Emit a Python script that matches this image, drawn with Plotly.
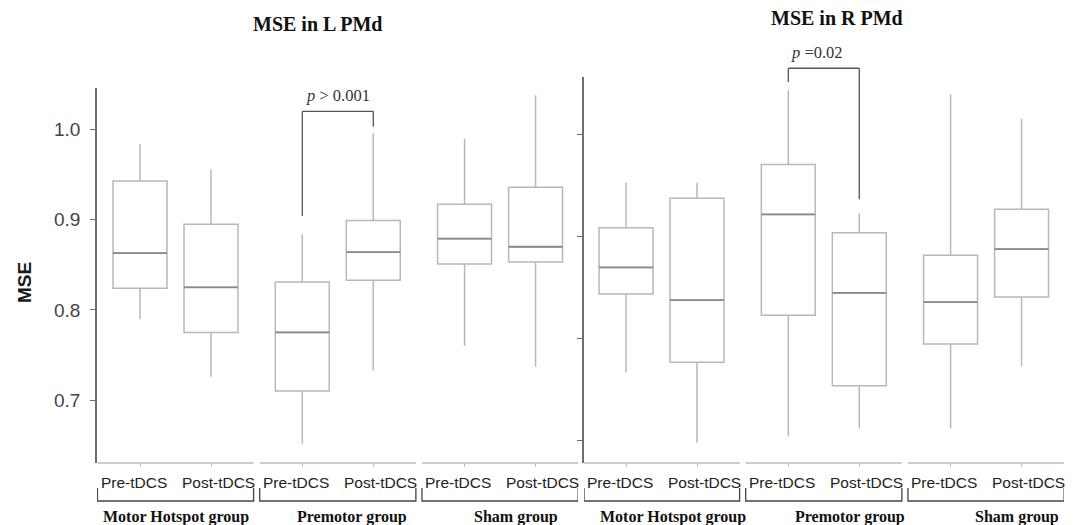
import plotly.graph_objects as go

# ---------------- data ----------------
groups = ["Motor Hotspot group", "Premotor group", "Sham group"]
sessions = ["Pre-tDCS", "Post-tDCS"]
y_ticks = [0.7, 0.8, 0.9, 1.0]

# order: Motor pre, Motor post, Premotor pre, Premotor post, Sham pre, Sham post
L_upper = [0.984, 0.956, 0.884, 0.996, 0.990, 1.038]
L_q3 = [0.943, 0.895, 0.831, 0.899, 0.917, 0.936]
L_med = [0.863, 0.825, 0.775, 0.864, 0.879, 0.870]
L_q1 = [0.824, 0.775, 0.710, 0.833, 0.851, 0.853]
L_lower = [0.790, 0.726, 0.652, 0.733, 0.760, 0.737]

R_upper = [0.953, 0.953, 1.044, 0.923, 1.040, 1.016]
R_q3 = [0.909, 0.938, 0.971, 0.904, 0.882, 0.927]
R_med = [0.870, 0.838, 0.922, 0.845, 0.836, 0.888]
R_q1 = [0.844, 0.777, 0.823, 0.754, 0.795, 0.841]
R_lower = [0.767, 0.698, 0.704, 0.712, 0.712, 0.773]

panel_titles = ["MSE in L PMd", "MSE in R PMd"]
# significance brackets: (box index a, box index b, top, leg a bottom, leg b bottom, label)
L_sig = (2, 3, 1.020, 0.904, 1.003, "<i>p</i> > 0.001")
R_sig = (2, 3, 1.0655, 1.052, 0.937, "<i>p</i> =0.02")

# ---------------- layout constants ----------------
W, H = 1077, 525
GROUP_STEP = 2.286
BOX_W = 0.76
positions = [g * GROUP_STEP + k for g in range(len(groups)) for k in range(len(sessions))]
centers = [g * GROUP_STEP + 0.5 for g in range(len(groups))]
session_label_off = [-0.09, 0.10]

def px_x(p):
    return p / W

def px_y(p):
    return 1 - p / H

panels = [
    dict(xa="x", ya="y", xdom=[px_x(97), px_x(578)], xr=[-0.606, 6.17],
         ydom=[px_y(463), px_y(88)], yr=[0.6303, 1.046],
         upper=L_upper, q3=L_q3, med=L_med, q1=L_q1, lower=L_lower, sig=L_sig,
         title_xy=(317.6, 24), label_off=[0.0, 0.2, 0.23], sig_dx=0.0),
    dict(xa="x2", ya="y2", xdom=[px_x(584), px_x(1064)], xr=[-0.592, 6.17],
         ydom=[px_y(463), px_y(77)], yr=[0.6781, 1.0569],
         upper=R_upper, q3=R_q3, med=R_med, q1=R_q1, lower=R_lower, sig=R_sig,
         title_xy=(837, 18), label_off=[0.157, 0.369, 0.435], sig_dx=-0.1),
]

BOX_LINE = "#b8b8b8"
MED_LINE = "#8a8a8a"
AXIS_LINE = "#6e6e6e"
SERIF = "Liberation Serif, Times New Roman, serif"
SANS = "Arial, Liberation Sans, sans-serif"

fig = go.Figure()
shapes = []
annotations = []

for pi, P in enumerate(panels):
    for i, pos in enumerate(positions):
        fig.add_trace(go.Box(
            x=[pos], q1=[P["q1"][i]], median=[P["med"][i]], q3=[P["q3"][i]],
            lowerfence=[P["lower"][i]], upperfence=[P["upper"][i]],
            width=BOX_W, whiskerwidth=0, boxpoints=False,
            line=dict(color=BOX_LINE, width=1.5), fillcolor="rgba(255,255,255,0)",
            xaxis=P["xa"], yaxis=P["ya"], showlegend=False, hoverinfo="skip",
        ))
        fig.add_trace(go.Scatter(
            x=[pos - BOX_W / 2, pos + BOX_W / 2], y=[P["med"][i], P["med"][i]],
            mode="lines", line=dict(color=MED_LINE, width=1.8),
            xaxis=P["xa"], yaxis=P["ya"], showlegend=False, hoverinfo="skip",
        ))
        # session label under each box
        annotations.append(dict(xref=P["xa"], yref="paper",
                                x=pos + session_label_off[i % 2], y=px_y(482),
                                xanchor="center", yanchor="middle", showarrow=False,
                                text=sessions[i % 2],
                                font=dict(family=SANS, size=15.5, color="#222")))

    y0d, y1d = P["ydom"]
    r0, r1 = P["yr"]

    def v2p(v, y0d=y0d, y1d=y1d, r0=r0, r1=r1):
        return y0d + (v - r0) / (r1 - r0) * (y1d - y0d)

    # significance bracket
    a, b, top, la, lb, txt = P["sig"]
    xa_, xb_ = positions[a], positions[b]
    sig_col = "#555555"
    for (x0, y0, x1, y1) in [(xa_, la, xa_, top), (xa_, top, xb_, top), (xb_, top, xb_, lb)]:
        shapes.append(dict(type="line", xref=P["xa"], yref="paper",
                           x0=x0, x1=x1, y0=v2p(y0), y1=v2p(y1),
                           line=dict(color=sig_col, width=1.3)))
    annotations.append(dict(xref=P["xa"], yref="paper", x=(xa_ + xb_) / 2 + P["sig_dx"],
                            y=v2p(top), yanchor="bottom", yshift=4, showarrow=False,
                            text=txt, font=dict(family=SERIF, size=16.5, color="#333")))

    # segmented bottom axis + group brackets + group labels
    for g, c in enumerate(centers):
        x_lo = max(c - 1.1, P["xr"][0])
        shapes.append(dict(type="line", xref=P["xa"], yref="paper",
                           x0=x_lo, x1=c + 1.1, y0=px_y(463), y1=px_y(463),
                           line=dict(color="#bdbdbd", width=1.3)))
        shapes.append(dict(type="path", xref=P["xa"], yref="paper",
                           path=f"M {x_lo},{px_y(488)} L {x_lo},{px_y(501)} L {c + 1.1},{px_y(501)} L {c + 1.1},{px_y(488)}",
                           line=dict(color="#444", width=1.3)))
        annotations.append(dict(xref=P["xa"], yref="paper", x=c + P["label_off"][g], y=px_y(517),
                                xanchor="center", yanchor="middle", showarrow=False,
                                text=f"<b>{groups[g]}</b>",
                                font=dict(family=SERIF, size=16, color="#111")))

    # panel title
    tx, ty = P["title_xy"]
    annotations.append(dict(xref="paper", yref="paper", x=px_x(tx), y=px_y(ty),
                            xanchor="center", yanchor="middle", showarrow=False,
                            text=f"<b>{panel_titles[pi]}</b>",
                            font=dict(family=SERIF, size=20, color="#111")))

# y-axis title
annotations.append(dict(xref="paper", yref="paper", x=px_x(24), y=px_y(283),
                        xanchor="center", yanchor="middle", showarrow=False, textangle=-90,
                        text="<b>MSE</b>", font=dict(family=SANS, size=19, color="#1a1a1a")))

xaxis_common = dict(showline=False, showgrid=False, zeroline=False,
                    ticks="outside", ticklen=3, tickcolor="#bdbdbd", tickwidth=1,
                    tickvals=positions, showticklabels=False, fixedrange=True)
yaxis_common = dict(showline=True, linecolor=AXIS_LINE, linewidth=1.5, showgrid=False,
                    zeroline=False, ticks="outside", ticklen=5, tickcolor=AXIS_LINE,
                    tickwidth=1.2, tickvals=y_ticks, ticktext=[f"{v:.1f}" for v in y_ticks],
                    tickfont=dict(family=SANS, size=19, color="#444"), ticklabelstandoff=6,
                    fixedrange=True)

fig.update_layout(
    width=W, height=H, margin=dict(l=0, r=0, t=0, b=0),
    paper_bgcolor="white", plot_bgcolor="rgba(0,0,0,0)",
    xaxis=dict(domain=panels[0]["xdom"], range=panels[0]["xr"], anchor="y", **xaxis_common),
    yaxis=dict(domain=panels[0]["ydom"], range=panels[0]["yr"], anchor="x", **yaxis_common),
    xaxis2=dict(domain=panels[1]["xdom"], range=panels[1]["xr"], anchor="y2", **xaxis_common),
    yaxis2=dict(domain=panels[1]["ydom"], range=panels[1]["yr"], anchor="x2",
                **{**yaxis_common, "showticklabels": False}),
    shapes=shapes, annotations=annotations, showlegend=False,
)

fig.write_html("out.html", config={"displayModeBar": False},
               post_script="document.body.style.margin='0';document.body.style.overflow='hidden';")
